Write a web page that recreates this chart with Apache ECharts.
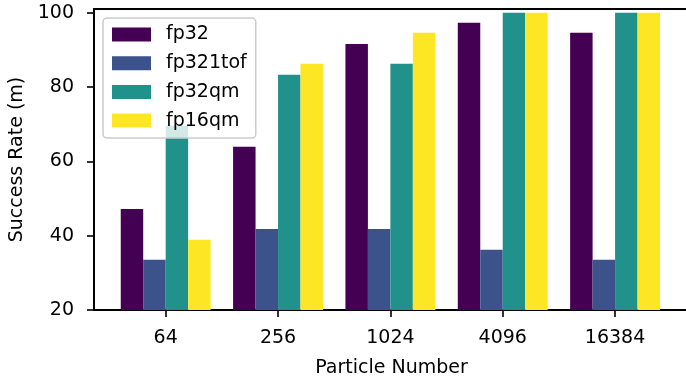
<!DOCTYPE html>
<html>
<head>
<meta charset="utf-8">
<script src="https://cdn.jsdelivr.net/npm/echarts@6/dist/echarts.min.js"></script>
<style>
html,body{margin:0;padding:0;background:#fff;}
#chart{width:686px;height:378px;}
</style>
</head>
<body>
<div id="chart"></div>
<script>
const categories = ['64', '256', '1024', '4096', '16384'];
const fp32 = [47.2, 63.9, 91.6, 97.3, 94.6];
const fp321tof = [33.5, 41.8, 41.8, 36.2, 33.5];
const fp32qm = [69.6, 83.3, 86.3, 100, 100];
const fp16qm = [38.9, 86.3, 94.6, 100, 100];
const yTicks = [20, 40, 60, 80, 100];
const seriesNames = ['fp32', 'fp321tof', 'fp32qm', 'fp16qm'];
const seriesData = [fp32, fp321tof, fp32qm, fp16qm];
const colors = ['#440154', '#3b528b', '#21918c', '#fde725'];

const FONT = 'DejaVu Sans';
const chart = echarts.init(document.getElementById('chart'), null, {renderer: 'canvas'});
const xPos = categories.map((c, i) => i);
const xMin = -0.638, xMax = 4.658;

chart.setOption({
  animation: false,
  textStyle: {fontFamily: FONT},
  grid: {left: 94, top: 9, right: -3, bottom: 68, outerBoundsMode: 'none', containLabel: false, show: false},
  legend: {
    left: 103, top: 18, orient: 'vertical', z: 20,
    data: seriesNames,
    itemWidth: 39, itemHeight: 14, itemGap: 9.7,
    padding: [7, 9, 8, 9],
    backgroundColor: 'rgba(255,255,255,0.8)',
    borderColor: '#cccccc', borderWidth: 1.5, borderRadius: 4,
    icon: 'rect',
    textStyle: {fontFamily: FONT, fontSize: 19, color: '#000', lineHeight: 19, padding: [0, 0, 0, 10]}
  },
  xAxis: [{
    type: 'value', min: xMin, max: xMax, position: 'bottom',
    name: 'Particle Number', nameLocation: 'middle', nameGap: 49,
    nameTextStyle: {fontFamily: FONT, fontSize: 19, color: '#000'},
    splitLine: {show: false},
    axisLine: {show: true, onZero: false, lineStyle: {color: '#000', width: 2}},
    axisTick: {show: true, length: 7, lineStyle: {color: '#000', width: 1.6}, customValues: xPos},
    axisLabel: {show: true, margin: 19, fontFamily: FONT, fontSize: 19, color: '#000', customValues: xPos,
      formatter: v => categories[Math.round(v)]}
  }, {
    type: 'value', min: xMin, max: xMax, position: 'top',
    splitLine: {show: false},
    axisLine: {show: true, onZero: false, lineStyle: {color: '#000', width: 2}},
    axisTick: {show: false}, axisLabel: {show: false}
  }],
  yAxis: {
    type: 'value', min: 20, max: 101,
    name: 'Success Rate (m)', nameLocation: 'middle', nameGap: 65,
    nameTextStyle: {fontFamily: FONT, fontSize: 19, color: '#000'},
    splitLine: {show: false},
    axisLine: {show: true, onZero: false, lineStyle: {color: '#000', width: 2}},
    axisTick: {show: true, length: 7, lineStyle: {color: '#000', width: 1.6}, customValues: yTicks},
    axisLabel: {show: true, margin: 20, fontFamily: FONT, fontSize: 19, color: '#000', customValues: yTicks}
  },
  series: seriesNames.map((name, s) => ({
    name: name,
    type: 'bar',
    xAxisIndex: 0,
    barWidth: 22.47,
    barGap: '0%',
    z: 2,
    itemStyle: {color: colors[s]},
    data: seriesData[s].map((v, i) => [xPos[i], v])
  }))
});
</script>
</body>
</html>
